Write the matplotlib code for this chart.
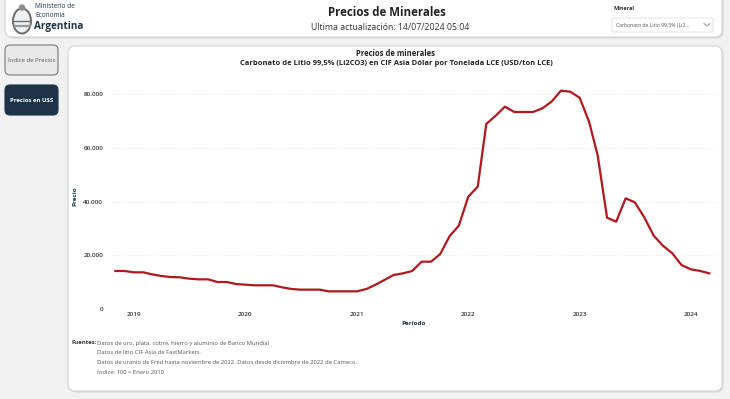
import numpy as np
import pandas as pd
import matplotlib
matplotlib.use("Agg")
import matplotlib.pyplot as plt
import matplotlib.dates as mdates
from matplotlib.patches import FancyBboxPatch, Ellipse, Circle
from matplotlib.ticker import FuncFormatter

plt.rcParams['font.family'] = ['Open Sans', 'DejaVu Sans']

# precio mensual del carbonato de litio (USD/ton LCE), nov 2018 - mar 2024
meses = pd.date_range('2018-11-01', periods=65, freq='MS')
precio = [14140, 14140, 13640, 13640, 12900, 12280, 11900, 11780, 11290, 11040,
          11040, 10050, 10050, 9300, 9050, 8810, 8810, 8810, 8060, 7440,
          7200, 7200, 7200, 6570, 6570, 6570, 6570, 7440, 8930, 10790,
          12650, 13270, 14140, 17610, 17610, 20470, 27160, 31010, 41800, 45520,
          68840, 71940, 75290, 73300, 73300, 73300, 74670, 77150, 81240, 80870,
          78640, 69700, 57300, 33980, 32490, 41180, 39690, 34110, 27290, 23570,
          20720, 16370, 14760, 14140, 13270]
anios = [2019, 2020, 2021, 2022, 2023, 2024]
yticks = [0, 20000, 40000, 60000, 80000]

fuentes = ["Datos de oro, plata, cobre, hierro y aluminio de Banco Mundial",
           "Datos de litio CIF Asia de FastMarkets.",
           "Datos de uranio de Fred hasta noviembre de 2022. Datos desde diciembre de 2022 de Cameco.",
           "Índice: 100 = Enero 2019"]

W, H = 730, 399
fig = plt.figure(figsize=(W / 100, H / 100), dpi=100)
fig.patch.set_facecolor('#f1f1f1')

# fondo en coordenadas de pixel
bg = fig.add_axes([0, 0, 1, 1])
bg.set_xlim(0, W)
bg.set_ylim(H, 0)
bg.axis('off')

def panel(x0, y0, x1, y1, fc='white', ec='#d4d4d4', r=7, lw=0.8):
    # sombra
    bg.add_patch(FancyBboxPatch((x0 + 1.5, y0 + 1.5), x1 - x0, y1 - y0,
                                boxstyle=f"round,pad=0,rounding_size={r}",
                                fc='#d9d9d9', ec='none'))
    bg.add_patch(FancyBboxPatch((x0, y0), x1 - x0, y1 - y0,
                                boxstyle=f"round,pad=0,rounding_size={r}",
                                fc=fc, ec=ec, lw=lw))

panel(5, -12, 722, 37)
panel(68, 46, 722, 391)

navy = '#1d3448'
# logo
bg.add_patch(Ellipse((22, 21), 18, 25, fc='#eef0f2', ec='#6c6c6c', lw=1.4))
bg.add_patch(Circle((22, 7.5), 3.2, fc='#8c8c8c', ec='none'))
bg.plot([14, 30], [21, 21], color='#6c6c6c', lw=1.0)
bg.plot([14.5, 29.5], [25.5, 25.5], color='#9a9a9a', lw=1.6)
bg.text(35, 7, "Ministerio de", fontsize=4.7, color=navy, va='center')
bg.text(35, 15.5, "Economía", fontsize=4.7, color=navy, va='center')
bg.text(34.5, 27, "Argentina", fontsize=7.2, fontweight='bold', color=navy, va='center')

bg.text(387, 12, "Precios de Minerales", fontsize=8.3, fontweight='bold',
        color='#222222', ha='center', va='center')
bg.text(390, 27, "Ultima actualización: 14/07/2024 05:04", fontsize=6.3,
        color='#333333', ha='center', va='center')

# selector de mineral
bg.text(613, 9, "Mineral", fontsize=4, fontweight='bold', color='#333333', va='center')
bg.add_patch(FancyBboxPatch((612, 18), 101, 14, boxstyle="round,pad=0,rounding_size=1",
                            fc='white', ec='#e2e2e2', lw=0.6))
bg.text(616, 25, "Carbonato de Litio 99,5% (Li2...", fontsize=3.7,
        color='#555555', va='center')
bg.plot([704, 707, 710], [23.5, 26, 23.5], color='#888888', lw=0.6)

# botones
bg.add_patch(FancyBboxPatch((5, 45), 53, 30, boxstyle="round,pad=0,rounding_size=5",
                            fc='#e8e8e8', ec='#777777', lw=0.8))
bg.text(31.5, 60, "Índice de Precios", fontsize=4.3, color='#555555',
        ha='center', va='center')
bg.add_patch(FancyBboxPatch((5, 85), 53, 30, boxstyle="round,pad=0,rounding_size=5",
                            fc=navy, ec=navy, lw=0.8))
bg.text(31.5, 100, "Precios en U$S", fontsize=4.3, color='white', fontweight='bold',
        ha='center', va='center')

# titulos del grafico
bg.text(396, 53, "Precios de minerales", fontsize=5.5, fontweight='bold',
        color='#222222', ha='center', va='center')
bg.text(396, 63.5, "Carbonato de Litio 99,5% (Li2CO3) en CIF Asia Dólar por Tonelada LCE (USD/ton LCE)",
        fontsize=5.4, fontweight='bold', color='#222222', ha='center', va='center')

# pie
bg.text(72, 343, "Fuentes:", fontsize=4.2, fontweight='bold', color='#333333', va='center')
for k, linea in enumerate(fuentes):
    bg.text(97, 343 + k * 10, linea, fontsize=4.2, color='#555555', va='center')

# grafico principal
x0, x1, y0, ytop = 113, 715, 309, 83.25
ax = fig.add_axes([x0 / W, (H - y0) / H, (x1 - x0) / W, (y0 - ytop) / H])
ax.patch.set_alpha(0)
d2019 = mdates.date2num(pd.Timestamp('2019-01-01'))
px_anio = 111.4
ax.set_xlim(d2019 - (134 - x0) / px_anio * 365.25, d2019 + (x1 - 134) / px_anio * 365.25)
ax.set_ylim(0, 84000)

ax.plot(meses, precio, color='#b0181e', lw=1.6, solid_joinstyle='round')

ax.set_yticks(yticks)
ax.yaxis.set_major_formatter(FuncFormatter(lambda v, p: f"{int(v):,}".replace(',', '.')))
ax.set_xticks([pd.Timestamp(f'{a}-01-01') for a in anios])
ax.set_xticklabels([str(a) for a in anios])
ax.tick_params(axis='both', length=0, labelsize=4.6, labelcolor='#333333')
ax.tick_params(axis='y', pad=7)
ax.tick_params(axis='x', pad=2)
for lab in ax.get_xticklabels() + ax.get_yticklabels():
    lab.set_fontweight('semibold')
ax.grid(axis='y', color='#dcdcdc', lw=0.6, linestyle=(0, (1, 2.5)))
ax.set_axisbelow(True)
for s in ax.spines.values():
    s.set_visible(False)

ax.set_ylabel("Precio", fontsize=4.6, fontweight='bold', color=navy, labelpad=4)
ax.set_xlabel("Período", fontsize=4.6, fontweight='bold', color=navy, labelpad=3)

fig.savefig("out.png", dpi=100, facecolor=fig.get_facecolor())
